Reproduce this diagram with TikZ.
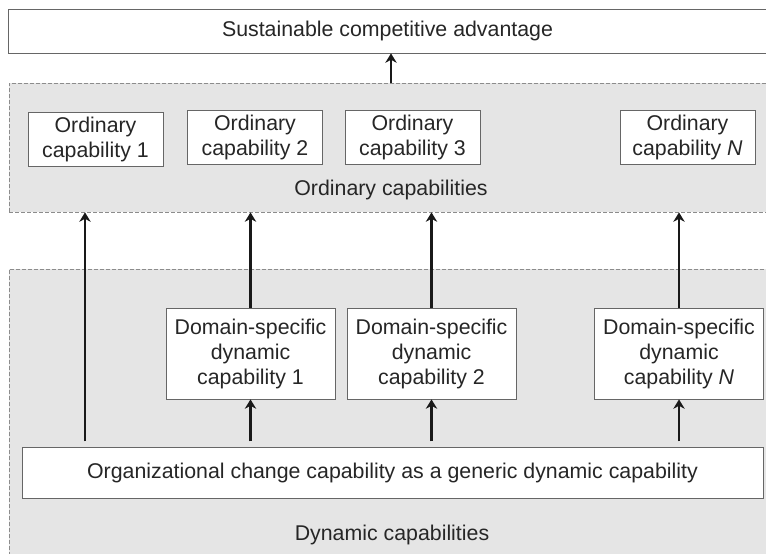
\documentclass[tikz,border=0pt]{standalone}
\usepackage{fontspec}
\setmainfont{Liberation Sans}
\usetikzlibrary{arrows.meta,calc}
\begin{document}
\begin{tikzpicture}[x=0.75pt,y=-0.75pt,
  every node/.style={font=\fontsize{16}{18.75}\selectfont, text=black!85},
  bx/.style={draw=black!60, fill=white, line width=0.6pt, align=center, inner sep=0pt},
  region/.style={draw=black!45, dashed, dash pattern=on 3pt off 1.5pt, fill=black!10, line width=0.6pt, inner sep=0pt},
  ocbox/.style={bx, minimum width=101.25pt, minimum height=40.5pt},
  dbox/.style={bx, minimum width=126.75pt, minimum height=68.25pt},
  arr/.style={-{Stealth[length=7pt,width=8.5pt,inset=2.2pt]}, line width=1.7pt, black!90}
]
\useasboundingbox (0,0) rectangle (766,553);
\fill[white] (0,0) rectangle (766,553);

\node[bx, minimum width=569.25pt, minimum height=33pt] (top) at (387.5,31) {Sustainable competitive advantage};

\node[region, minimum width=568.5pt, minimum height=96.75pt] (ordreg) at (388,147.5) {};
\node[region, minimum width=568.5pt, minimum height=248.25pt] (dynreg) at (388,434.5) {};

\node[ocbox] (oc1) at (95.5,139) {Ordinary\\capability 1};
\node[ocbox] (oc2) at (255,137) {Ordinary\\capability 2};
\node[ocbox] (oc3) at (412.5,137) {Ordinary\\capability 3};
\node[ocbox] (ocn) at (687.5,137) {Ordinary\\capability \textit{N}};
\node (ordlab) at (391,190) {Ordinary capabilities};

\node[dbox] (d1) at (250.5,353.5) {Domain-specific\\dynamic\\capability 1};
\node[dbox] (d2) at (431.5,353.5) {Domain-specific\\dynamic\\capability 2};
\node[dbox] (dn) at (679,353.5) {Domain-specific\\dynamic\\capability \textit{N}};

\node[bx, minimum width=555.75pt, minimum height=38.25pt] (gen) at (392.5,472.5) {Organizational change capability as a generic dynamic capability};
\node (dynlab) at (392,535) {Dynamic capabilities};

\coordinate (c1) at (85,0);
\coordinate (c0) at (391,0);

\draw[arr] (c0 |- ordreg.north) -- (c0 |- top.south);
\draw[arr, shorten <=4pt] (c1 |- gen.north) -- (c1 |- ordreg.south);
\draw[arr] (d1.north) -- (d1.north |- ordreg.south);
\draw[arr] (d2.north) -- (d2.north |- ordreg.south);
\draw[arr] (dn.north) -- (dn.north |- ordreg.south);
\draw[arr, shorten <=4pt] (d1.south |- gen.north) -- (d1.south);
\draw[arr, shorten <=4pt] (d2.south |- gen.north) -- (d2.south);
\draw[arr, shorten <=4pt] (dn.south |- gen.north) -- (dn.south);
\end{tikzpicture}
\end{document}
